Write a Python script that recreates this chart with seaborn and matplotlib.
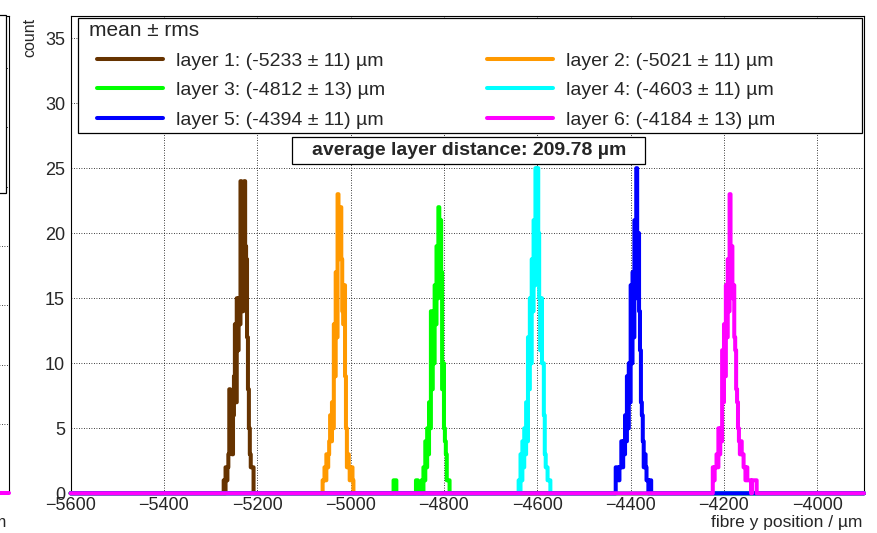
import numpy as np
import pandas as pd
import matplotlib
matplotlib.use("Agg")
import matplotlib.pyplot as plt
from matplotlib.lines import Line2D
from matplotlib.patches import Rectangle
from matplotlib.ticker import MultipleLocator
import seaborn as sns

# histogram binning (µm)
bin_width = 2
x_min, x_max = -5600, -3900

layer_names = ["layer 1", "layer 2", "layer 3", "layer 4", "layer 5", "layer 6"]
layer_means = [-5233, -5021, -4812, -4603, -4394, -4184]
layer_rms = [11, 11, 13, 11, 11, 13]
layer_colors = ["#663300", "#ff9900", "#00ff00", "#00ffff", "#0000ff", "#ff00ff"]
avg_distance = 209.78

# lowest bin edge of every layer + counts per 2 µm bin
layer_starts = [-5272, -5060, -4908, -4640, -4432, -4224]
layer1_counts = [1, 0, 2, 1, 2, 3, 8, 6, 4, 3, 6, 9, 13, 7, 15, 11,
                 15, 13, 24, 17, 14, 20, 24, 19, 18, 12, 8, 5, 3, 2, 2, 2]
layer2_counts = [1, 1, 2, 1, 3, 2, 3, 4, 6, 4, 7, 5, 13, 9, 17, 12, 23,
                 18, 20, 22, 18, 14, 13, 16, 9, 5, 2, 3, 2, 1, 2, 2, 1, 0]
layer3_counts = [1, 1, 1, 0] + [0] * 20 + [1, 1, 0, 0, 0, 0,
                 1, 0, 2, 1, 4, 2, 5, 3, 7, 5, 14, 8, 12, 10, 16, 13,
                 19, 15, 22, 17, 21, 17, 8, 10, 5, 4, 3, 1, 1, 1]
layer4_counts = [1, 0, 3, 1, 4, 2, 5, 3, 7, 4, 12, 8, 15, 10, 18, 14, 21,
                 16, 25, 19, 25, 20, 15, 11, 15, 10, 10, 6, 3, 2, 2, 1, 1, 1]
layer5_counts = [2, 2, 2, 1, 2, 2, 4, 2, 4, 3, 6, 4, 9, 5, 10, 7, 16, 10, 17,
                 12, 21, 15, 25, 18, 20, 14, 11, 7, 6, 4, 2, 3, 2, 1, 1, 0, 1, 1]
layer6_counts = [2, 1, 2, 2, 3, 2, 5, 3, 5, 4, 11, 7, 13, 9, 16, 12, 18, 14,
                 23, 17, 19, 15, 16, 12, 11, 8, 7, 5, 4, 3, 4, 3, 3, 2, 2, 1,
                 2, 1, 1, 1, 1, 0, 1, 1, 1, 1, 1, 0]
layer_counts = [layer1_counts, layer2_counts, layer3_counts,
                layer4_counts, layer5_counts, layer6_counts]

edges = np.arange(x_min, x_max + bin_width, bin_width)
centers = edges[:-1] + bin_width / 2

rows = []
for name, start, counts in zip(layer_names, layer_starts, layer_counts):
    full = np.zeros(len(centers))
    i0 = int((start - x_min) / bin_width)
    full[i0:i0 + len(counts)] = counts
    rows.append(pd.DataFrame({"layer": name, "y": centers, "count": full}))
df = pd.concat(rows, ignore_index=True)

W, H = 878, 533
def fx(px):
    return px / W
def fy(py):
    return 1 - py / H

sns.set_style("white")
plt.rcParams["font.family"] = ["Liberation Sans", "DejaVu Sans"]

fig = plt.figure(figsize=(W / 100, H / 100), dpi=100)
ax = fig.add_axes([fx(70.6), fy(493.3), fx(864) - fx(70.6), fy(16) - fy(493.3)])
ft = fig.transFigure
lw = 2.9

for name, color in zip(layer_names, layer_colors):
    sns.histplot(data=df[df["layer"] == name], x="y", weights="count",
                 binwidth=bin_width, binrange=(x_min, x_max),
                 element="step", fill=False, color=color, linewidth=lw,
                 ax=ax, clip_on=False, zorder=3)

ax.set_xlim(x_min, x_max)
ax.set_ylim(0, 36.7)
ax.set_xlabel("")
ax.set_ylabel("")
ax.xaxis.set_major_locator(MultipleLocator(200))
ax.xaxis.set_minor_locator(MultipleLocator(50))
ax.yaxis.set_major_locator(MultipleLocator(5))
ax.yaxis.set_minor_locator(MultipleLocator(1))
ax.tick_params(which="both", direction="in", top=False, right=False,
               labelsize=13, width=0.8, color="black")
ax.tick_params(axis="x", which="major", length=9.8, pad=3)
ax.tick_params(axis="x", which="minor", length=4.9)
ax.tick_params(axis="y", which="major", length=16.3, pad=4)
ax.tick_params(axis="y", which="minor", length=7.9)
ax.grid(True, which="major", color="black", linestyle=(0, (1, 2)), linewidth=0.6)
for s in ax.spines.values():
    s.set_color("black")
    s.set_linewidth(0.8)

fig.text(fx(30), fy(18), "count", rotation=90, ha="center", va="top", fontsize=11.5)
fig.text(fx(862), fy(522), "fibre y position / µm", ha="right", va="center", fontsize=12.5)

# legend box
ax.add_patch(Rectangle((fx(78.3), fy(133.3)), fx(862) - fx(78.3), fy(18) - fy(133.3),
                       transform=ft, facecolor="white", edgecolor="black",
                       linewidth=0.9, zorder=4.5, clip_on=False))
ax.text(fx(89), fy(31), "mean ± rms", transform=ft, ha="left", va="center",
        fontsize=15, zorder=6)

labels = [f"{n}: ({m} ± {r}) µm" for n, m, r in zip(layer_names, layer_means, layer_rms)]
handles = [Line2D([], [], color=c, linewidth=lw) for c in layer_colors]
leg_kw = dict(frameon=False, fontsize=14, handlelength=3.4, handletextpad=0.65,
              labelspacing=0.61, borderpad=0, borderaxespad=0, loc="upper left",
              bbox_transform=ft)
leg1 = ax.legend(handles[0::2], labels[0::2], bbox_to_anchor=(fx(97), fy(52)), **leg_kw)
leg1.set_zorder(6)
ax.add_artist(leg1)
leg2 = ax.legend(handles[1::2], labels[1::2], bbox_to_anchor=(fx(487), fy(52)), **leg_kw)
leg2.set_zorder(6)

# text box with average distance
ax.add_patch(Rectangle((fx(292.3), fy(164.3)), fx(645) - fx(292.3), fy(136.7) - fy(164.3),
                       transform=ft, facecolor="white", edgecolor="black",
                       linewidth=0.9, zorder=7, clip_on=False))
ax.text(fx(469), fy(150.5), f"average layer distance: {avg_distance:.2f} µm",
        transform=ft, ha="center", va="center", fontsize=14, fontweight="bold", zorder=8)

# edge of the neighbouring pad on the left
axl = fig.add_axes([fx(-300), fy(493.3), fx(9) - fx(-300), fy(16) - fy(493.3)])
axl.set_xlim(0, 1)
axl.set_ylim(-0.169, 7.88)
axl.set_yticks(range(1, 8))
axl.set_xticks([])
axl.tick_params(left=False, labelleft=False)
axl.grid(True, axis="y", color="black", linestyle=(0, (1, 2)), linewidth=0.6)
axl.axhline(-0.169, color="#ff00ff", linewidth=lw, clip_on=False, zorder=3)
for s in axl.spines.values():
    s.set_color("black")
    s.set_linewidth(0.8)
axl.add_patch(Rectangle((fx(-300), fy(193)), fx(6) - fx(-300), fy(15) - fy(193),
                        transform=ft, facecolor="white", edgecolor="black",
                        linewidth=0.9, zorder=5, clip_on=False))
fig.text(fx(7), fy(522), "µm", ha="right", va="center", fontsize=12.5)

fig.savefig("out.png", dpi=100)
